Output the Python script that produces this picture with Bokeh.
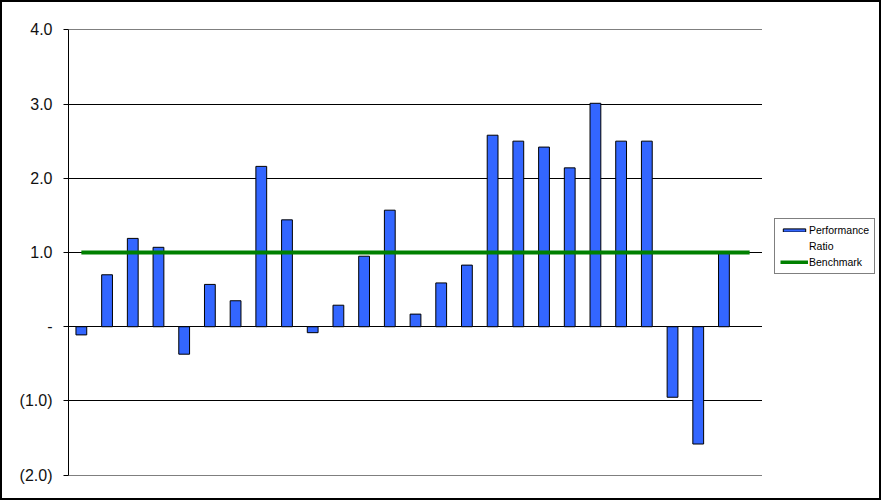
import math
from bokeh.plotting import figure
from bokeh.layouts import row
from bokeh.models import FixedTicker, Legend, LegendItem, ColumnDataSource, Range1d
from bokeh.embed import file_html
from bokeh.resources import INLINE

categories = [str(i) for i in range(1, 28)]
performance_ratio = [-0.11, 0.70, 1.19, 1.07, -0.37, 0.57, 0.35, 2.16, 1.44,
                     -0.08, 0.29, 0.95, 1.57, 0.17, 0.59, 0.83, 2.58, 2.50,
                     2.42, 2.14, 3.01, 2.50, 2.50, -0.95, -1.58, 1.00, math.nan]
benchmark = [1.0, 1.0, 1.0, 1.0, 1.0, 1.0, 1.0, 1.0, 1.0, 1.0, 1.0, 1.0, 1.0, 1.0,
             1.0, 1.0, 1.0, 1.0, 1.0, 1.0, 1.0, 1.0, 1.0, 1.0, 1.0, 1.0, 1.0]
y_ticks = [-2, -1, 0, 1, 2, 3, 4]
y_tick_labels = ["(2.0)", "(1.0)", "-", "1.0", "2.0", "3.0", "4.0"]

BAR_FILL = "#3366FF"
BENCH = "#008000"

src = ColumnDataSource(dict(cat=categories, perf=performance_ratio, bench=benchmark))

p = figure(x_range=categories, y_range=(-2.004, 4.004), width=760, height=496,
           output_backend="svg", toolbar_location=None,
           min_border_left=66, min_border_top=27, min_border_bottom=23,
           min_border_right=0, outline_line_color=None,
           background_fill_color="white", border_fill_color="white")
p.x_range.range_padding = 0

p.vbar(x="cat", top="perf", bottom=0, width=0.42, source=src,
       fill_color=BAR_FILL, line_color="black", line_width=1)
p.line(x="cat", y="bench", source=src, line_color=BENCH, line_width=4)

p.xaxis.visible = False
p.xgrid.grid_line_color = None

ticker = FixedTicker(ticks=y_ticks)
p.yaxis.ticker = ticker
p.ygrid.ticker = ticker
p.ygrid.grid_line_color = "black"
p.ygrid.grid_line_width = 1
p.yaxis.major_label_overrides = {t: l for t, l in zip(y_ticks, y_tick_labels)}
p.yaxis.axis_line_color = "black"
p.yaxis.major_tick_line_color = "black"
p.yaxis.major_tick_in = 0
p.yaxis.major_tick_out = 5
p.yaxis.minor_tick_line_color = None
p.yaxis.major_label_standoff = 11
p.yaxis.major_label_text_font = "Liberation Sans"
p.yaxis.major_label_text_font_size = "16px"
p.yaxis.major_label_text_color = "#111111"

# legend panel: proxy renderers kept outside the visible range, used only for the legend
lp = figure(width=117, height=496, output_backend="svg", toolbar_location=None,
            x_range=Range1d(0, 1), y_range=Range1d(0, 1),
            x_axis_type=None, y_axis_type=None,
            min_border_left=0, min_border_right=0, min_border_top=0, min_border_bottom=0,
            outline_line_color=None, background_fill_color="white",
            border_fill_color="white")
proxy = ColumnDataSource(dict(x=[10, 11], top=[10, 10], bottom=[9, 9]))
lbar = lp.vbar(x="x", top="top", bottom="bottom", width=0.4, source=proxy,
               fill_color=BAR_FILL, line_color="black", line_width=1)
lline = lp.line(x="x", y="top", source=proxy, line_color=BENCH, line_width=4)

legend = Legend(items=[LegendItem(label="Performance", renderers=[lbar]),
                       LegendItem(label="Ratio"),
                       LegendItem(label="Benchmark", renderers=[lline])],
                location=(12, 201))
legend.border_line_color = "black"
legend.border_line_width = 1
legend.background_fill_color = "white"
legend.background_fill_alpha = 1
legend.label_text_font = "Liberation Sans"
legend.label_text_font_size = "10.5px"
legend.label_text_color = "black"
legend.glyph_width = 28
legend.glyph_height = 4
legend.label_standoff = 1
legend.label_height = 12
legend.padding = 5
legend.spacing = 4
legend.margin = 0
lp.add_layout(legend, "center")

layout = row(p, lp)
layout.styles = {"border": "2px solid black"}

open("out.html", "w").write(file_html(layout, INLINE))
